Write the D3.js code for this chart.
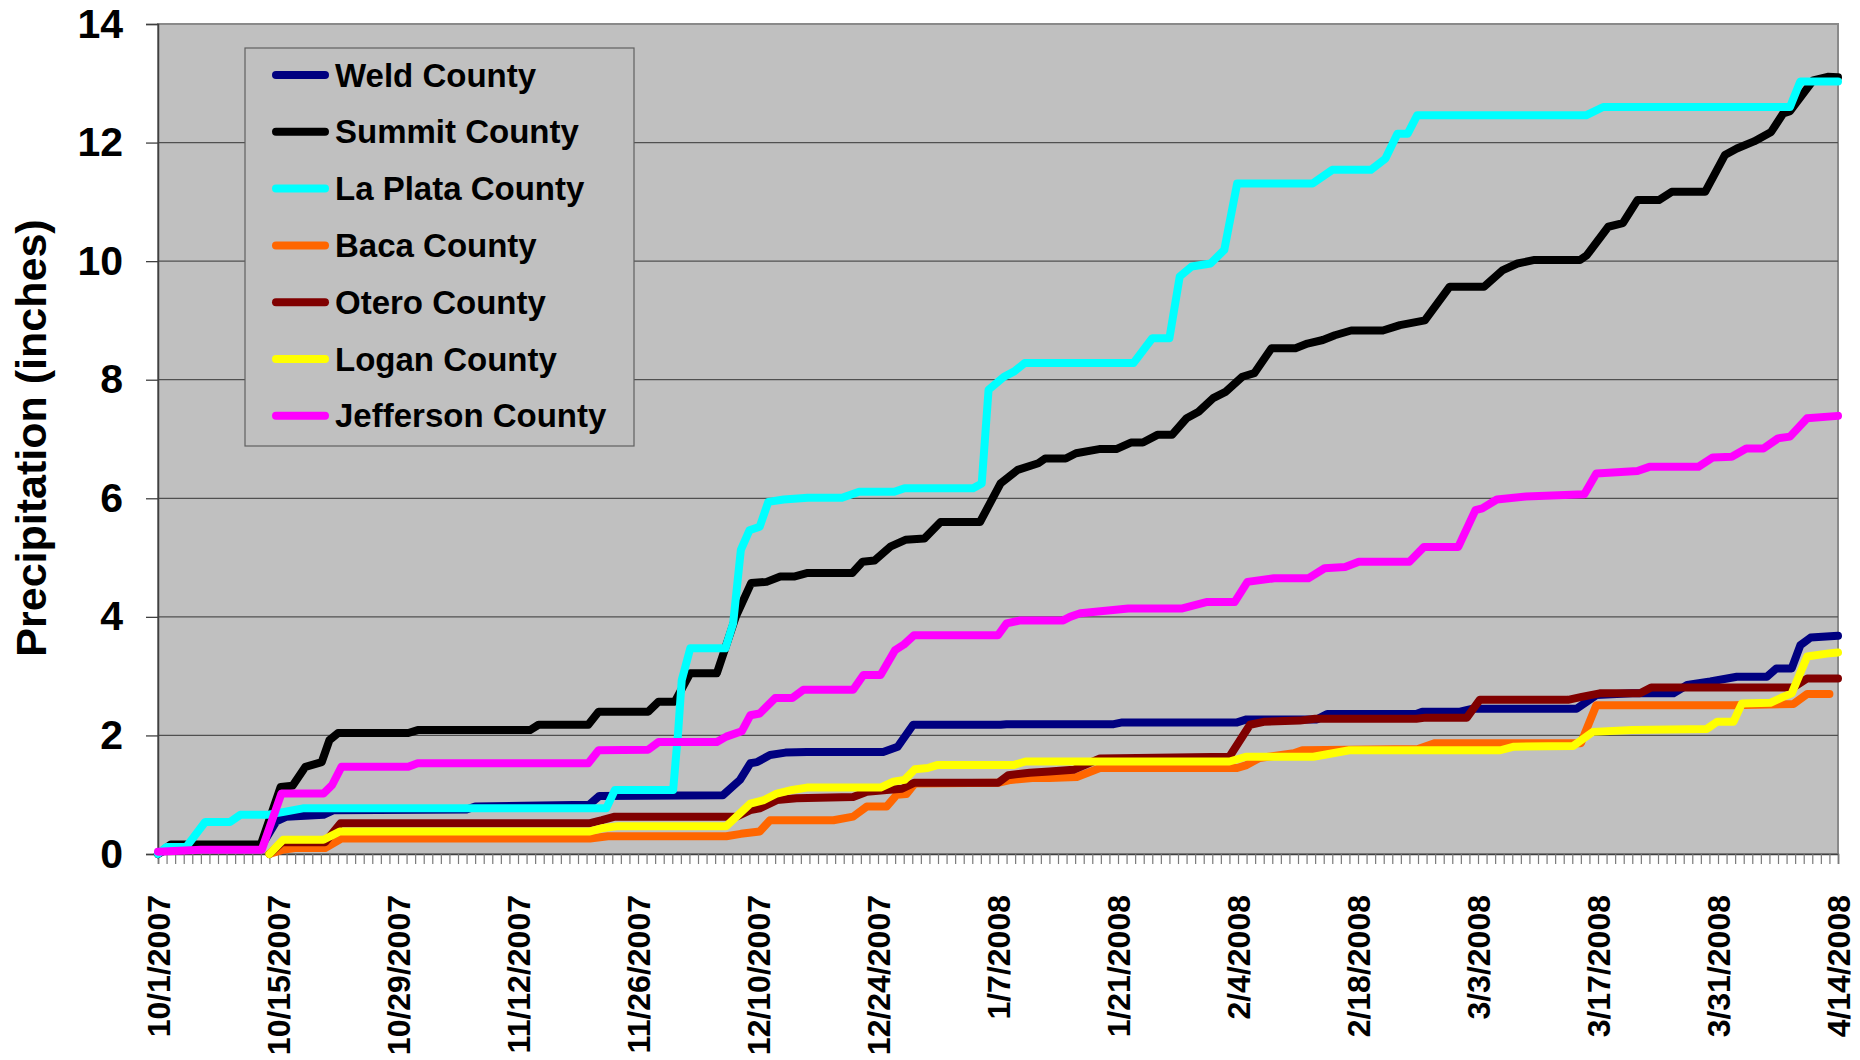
<!DOCTYPE html>
<html>
<head>
<meta charset="utf-8">
<script src="https://cdn.jsdelivr.net/npm/d3@7"></script>
<style>
  body { margin: 0; background: #ffffff; }
  text { font-family: "Liberation Sans", Arial, sans-serif; font-weight: bold; fill: #000; }
</style>
</head>
<body>
<script>

// days are counted from 10/1/2007, values are cumulative inches
var startDate = "10/1/2007";
var endDate = "4/14/2008";

var countyNames = ["Weld County", "Summit County", "La Plata County", "Baca County",
                   "Otero County", "Logan County", "Jefferson County"];
var countyColors = ["#000080", "#000000", "#00ffff", "#ff6600", "#800000", "#ffff00", "#ff00ff"];

var weld = [[0,0],[1.5,0.12],[12,0.12],[13.8,0.55],[15,0.63],[19.3,0.66],[20.5,0.74],[36,0.75],[37,0.8],
  [50.3,0.83],[51.5,0.98],[65.9,0.99],[67.9,1.25],[69.1,1.53],[69.9,1.55],[71.4,1.67],[73.2,1.71],[75.7,1.72],
  [84.6,1.72],[86.3,1.81],[88.1,2.18],[98.3,2.18],[99,2.19],[111.5,2.19],[112.5,2.22],[125.9,2.22],[127,2.27],
  [135.2,2.27],[136.4,2.36],[146.8,2.36],[147.5,2.4],[151.9,2.4],[153.4,2.45],[165.5,2.45],[167.8,2.68],
  [172,2.71],[176.8,2.71],[178.4,2.85],[181.1,2.91],[184.2,2.99],[187.7,2.99],[188.8,3.13],[190.6,3.13],
  [191.6,3.52],[192.8,3.65],[196,3.68]];

var summit = [[0,0],[1.5,0.16],[12,0.16],[14.3,1.13],[15.7,1.15],[17.2,1.47],[19.1,1.55],[20,1.92],[21,2.04],
  [29.2,2.04],[30.3,2.09],[43.4,2.09],[44.4,2.18],[50.2,2.18],[51.4,2.4],[57.2,2.4],[58.4,2.57],[60.3,2.57],
  [62.1,3.05],[65.2,3.05],[67.4,4.0],[69.2,4.57],[71,4.59],[72.6,4.68],[74.2,4.68],[75.8,4.74],[81,4.74],
  [82.2,4.93],[83.6,4.95],[85.5,5.19],[87.2,5.3],[89.4,5.32],[91.3,5.6],[95.9,5.6],[98.3,6.25],[100.3,6.48],
  [102.7,6.59],[103.5,6.67],[105.9,6.67],[107.1,6.76],[109.8,6.83],[111.8,6.83],[113.5,6.94],[114.9,6.94],
  [116.6,7.07],[118.3,7.07],[120,7.35],[121.4,7.46],[123.1,7.69],[124.6,7.8],[126.5,8.05],[127.9,8.11],
  [129.9,8.53],[132.7,8.53],[134.1,8.61],[135.9,8.67],[137.3,8.75],[139.2,8.83],[142.9,8.83],[144.9,8.92],
  [147.8,9.0],[150.7,9.57],[154.7,9.57],[156.9,9.85],[158.6,9.96],[160.6,10.02],[165.9,10.02],[166.7,10.1],
  [169.2,10.58],[170.9,10.64],[172.6,11.03],[175.1,11.03],[176.6,11.17],[180.5,11.17],[182.8,11.79],
  [184.2,11.9],[186.2,12.02],[188.2,12.18],[189.6,12.49],[190.4,12.53],[193.1,13.05],[194.8,13.11],[196,13.1]];

var laPlata = [[0,0],[1,0.12],[3.3,0.12],[5.5,0.54],[8.4,0.54],[9.6,0.66],[12.7,0.66],[14.7,0.71],[16.9,0.77],
  [52.3,0.77],[53.3,1.08],[60.1,1.08],[60.7,2.09],[61.1,2.93],[62.1,3.47],[66.2,3.47],[67.1,3.89],[68,5.13],
  [69,5.46],[70.2,5.52],[71.2,5.94],[73,5.98],[75.8,6.01],[79.8,6.01],[81.8,6.11],[85.9,6.11],[87.1,6.17],
  [95.1,6.17],[96.1,6.25],[96.9,7.83],[98.7,8.05],[99.9,8.14],[101.1,8.28],[113.8,8.28],[116,8.7],[118,8.7],
  [119.2,9.74],[120.6,9.91],[122.8,9.96],[124.4,10.19],[125.9,11.31],[134.7,11.31],[137,11.54],[141.5,11.54],
  [143.2,11.73],[144.6,12.15],[145.8,12.15],[146.9,12.46],[166.6,12.46],[168.6,12.6],[190.4,12.6],
  [191.6,13.03],[196,13.03]];

var baca = [[13,0],[14.5,0.07],[16,0.1],[19.5,0.1],[21.4,0.26],[50.4,0.26],[52.5,0.3],[66.3,0.3],[68,0.34],
  [70.2,0.38],[71.4,0.57],[78.8,0.57],[81.1,0.63],[82.7,0.8],[85,0.8],[86.2,1.0],[87.3,1.01],[88.3,1.19],
  [98,1.2],[99.5,1.25],[102,1.28],[104,1.28],[107.2,1.3],[109.9,1.45],[125.9,1.45],[127,1.5],[128.5,1.62],
  [132.5,1.7],[133.5,1.75],[147,1.77],[149,1.87],[166,1.87],[167.8,2.51],[183.8,2.51],[190.8,2.53],
  [192.4,2.7],[195,2.7]];

var otero = [[13,0],[14.5,0.2],[19.5,0.2],[21.3,0.52],[50.4,0.52],[51.8,0.57],[53.3,0.63],[67.5,0.63],
  [69.1,0.74],[70.2,0.77],[72.2,0.91],[74.5,0.94],[81.1,0.96],[82.7,1.05],[85,1.08],[86.8,1.1],[88.2,1.2],
  [98,1.2],[99.2,1.33],[101.7,1.37],[104,1.39],[106.8,1.42],[109.9,1.61],[125,1.64],[127.4,2.18],[129,2.23],
  [133.2,2.25],[135,2.28],[146.8,2.28],[147.9,2.3],[152.7,2.3],[154.2,2.6],[164.5,2.6],[166.1,2.65],
  [168.2,2.71],[172.9,2.71],[174.2,2.81],[190.8,2.81],[192.4,2.96],[196,2.96]];

var logan = [[13,0],[14.6,0.24],[19.3,0.24],[21.2,0.38],[50.4,0.38],[52,0.44],[53.7,0.47],[66.3,0.47],
  [69.1,0.85],[70.7,0.91],[72.2,1.02],[74,1.08],[75.7,1.12],[84.3,1.12],[85.8,1.22],[87.1,1.25],[88.3,1.43],
  [89.8,1.45],[90.9,1.5],[99.8,1.5],[101.2,1.56],[125,1.56],[126.9,1.64],[134.8,1.64],[139,1.75],
  [156.6,1.75],[158.2,1.81],[165.1,1.82],[167.4,2.06],[172,2.09],[180.7,2.11],[181.9,2.23],[183.8,2.23],
  [184.8,2.54],[188.1,2.55],[189.6,2.65],[190.6,2.71],[192.4,3.33],[194.7,3.38],[196,3.4]];

var jefferson = [[0,0.04],[5,0.07],[12.1,0.07],[14.4,1.02],[19.3,1.02],[20.3,1.16],[21.4,1.47],[29.2,1.47],
  [30.3,1.53],[50.2,1.53],[51.4,1.75],[57.2,1.76],[58.4,1.89],[65.2,1.89],[66.3,1.98],[68.1,2.07],[69.1,2.34],
  [70.2,2.37],[72,2.63],[74,2.63],[75.3,2.77],[81.1,2.77],[82.3,3.02],[84.3,3.02],[86,3.44],[87,3.53],
  [88.2,3.69],[98,3.69],[99,3.89],[100.6,3.94],[105.6,3.94],[106.4,4.0],[107.6,4.06],[113.2,4.14],
  [119.4,4.14],[122.3,4.25],[125.6,4.25],[127.1,4.59],[130.2,4.65],[134.2,4.65],[136.1,4.82],[138.5,4.84],
  [140.1,4.93],[146,4.93],[147.7,5.18],[151.7,5.18],[153.7,5.8],[154.5,5.83],[156.2,5.98],[159.6,6.03],
  [166.4,6.07],[167.8,6.42],[172.6,6.46],[174,6.53],[179.7,6.53],[181.4,6.69],[183.6,6.7],[185.3,6.84],
  [187.3,6.84],[189,7.01],[190.4,7.04],[192.4,7.35],[196,7.39]];

var countySeries = [weld, summit, laPlata, baca, otero, logan, jefferson];

var dateLabels = ["10/1/2007","10/15/2007","10/29/2007","11/12/2007","11/26/2007","12/10/2007","12/24/2007",
  "1/7/2008","1/21/2008","2/4/2008","2/18/2008","3/3/2008","3/17/2008","3/31/2008","4/14/2008"];
var yTicks = [0, 2, 4, 6, 8, 10, 12, 14];


var parseDate = d3.utcParse("%m/%d/%Y");
var formatDate = d3.utcFormat("%-m/%-d/%Y");
var day0 = parseDate(startDate);
var dayN = parseDate(endDate);
function dayToDate(d) { return new Date(day0.getTime() + d * 864e5); }

var plotLeft = 158, plotRight = 1838, plotTop = 24, plotBottom = 854;

var svg = d3.select("body")
   .append("svg")
   .attr("width", 1860)
   .attr("height", 1060);

var xScale = d3.scaleUtc()
   .domain([day0, dayN])
   .range([plotLeft, plotRight]);

var yScale = d3.scaleLinear()
   .domain([0, 14])
   .range([plotBottom, plotTop]);

// plot area
svg.append("rect")
   .attr("x", plotLeft).attr("y", plotTop)
   .attr("width", plotRight - plotLeft).attr("height", plotBottom - plotTop)
   .attr("fill", "#c0c0c0")
   .attr("stroke", "#8a8a8a")
   .attr("stroke-width", 2);

// gridlines
svg.append("g")
   .selectAll("line")
   .data(yTicks.filter(function(v){ return v > 0 && v < 14; }))
   .enter()
   .append("line")
   .attr("x1", plotLeft).attr("x2", plotRight)
   .attr("y1", function(d){ return yScale(d); })
   .attr("y2", function(d){ return yScale(d); })
   .attr("stroke", "#505050")
   .attr("stroke-width", 1.3);

// y axis
var yAxis = d3.axisLeft(yScale).tickValues(yTicks).tickSize(12).tickPadding(23);
var gy = svg.append("g").attr("transform", "translate(" + plotLeft + ",0)").call(yAxis);
gy.select(".domain").attr("stroke", "#404040").attr("stroke-width", 1.5);
gy.selectAll(".tick line").attr("stroke", "#404040").attr("stroke-width", 1.3);
gy.selectAll(".tick text")
   .attr("font-size", 41)
   .attr("font-family", "'Liberation Sans', Arial, sans-serif")
   .attr("font-weight", "bold")
   .attr("fill", "#000");

// x axis: one tick per day
var xTickAxis = d3.axisBottom(xScale)
   .tickValues(d3.utcDays(day0, d3.utcDay.offset(dayN, 1)))
   .tickSize(10)
   .tickFormat("");
var gx = svg.append("g").attr("transform", "translate(0," + plotBottom + ")").call(xTickAxis);
gx.select(".domain").attr("stroke", "#404040").attr("stroke-width", 1.5);
gx.selectAll(".tick line").attr("stroke", "#7a7a7a").attr("stroke-width", 1.2);

// x labels, rotated
var xLabelAxis = d3.axisBottom(xScale)
   .tickValues(dateLabels.map(parseDate))
   .tickSize(0)
   .tickFormat(formatDate);
var gxl = svg.append("g").attr("transform", "translate(0," + plotBottom + ")").call(xLabelAxis);
gxl.select(".domain").remove();
gxl.selectAll(".tick text")
   .attr("font-size", 32)
   .attr("font-family", "'Liberation Sans', Arial, sans-serif")
   .attr("font-weight", "bold")
   .attr("fill", "#000")
   .attr("text-anchor", "end")
   .attr("transform", "rotate(-90)")
   .attr("x", -41)
   .attr("y", 0)
   .attr("dy", "0.36em");

// y title
svg.append("text")
   .text("Precipitation (inches)")
   .attr("font-size", 43)
   .attr("text-anchor", "middle")
   .attr("transform", "translate(46,438) rotate(-90)");

// series, first one drawn underneath
var line = d3.line()
   .x(function(d){ return xScale(dayToDate(d[0])); })
   .y(function(d){ return yScale(d[1]); });

svg.append("g")
   .selectAll("path")
   .data(countySeries)
   .enter()
   .append("path")
   .attr("d", line)
   .attr("fill", "none")
   .attr("stroke", function(d, i){ return countyColors[i]; })
   .attr("stroke-width", 8)
   .attr("stroke-linejoin", "round")
   .attr("stroke-linecap", "round");

// legend
var legend = svg.append("g");
legend.append("rect")
   .attr("x", 245).attr("y", 48)
   .attr("width", 389).attr("height", 398)
   .attr("fill", "#c0c0c0")
   .attr("stroke", "#606060")
   .attr("stroke-width", 1.2);

var rows = legend.selectAll("g.row")
   .data(countyNames)
   .enter()
   .append("g")
   .attr("class", "row")
   .attr("transform", function(d, i){ return "translate(0," + (75 + i * 56.8) + ")"; });

rows.append("line")
   .attr("x1", 276).attr("x2", 325)
   .attr("stroke", function(d, i){ return countyColors[i]; })
   .attr("stroke-width", 8)
   .attr("stroke-linecap", "round");

rows.append("text")
   .text(function(d){ return d; })
   .attr("x", 335)
   .attr("dy", "0.35em")
   .attr("font-size", 33);

</script>
</body>
</html>
